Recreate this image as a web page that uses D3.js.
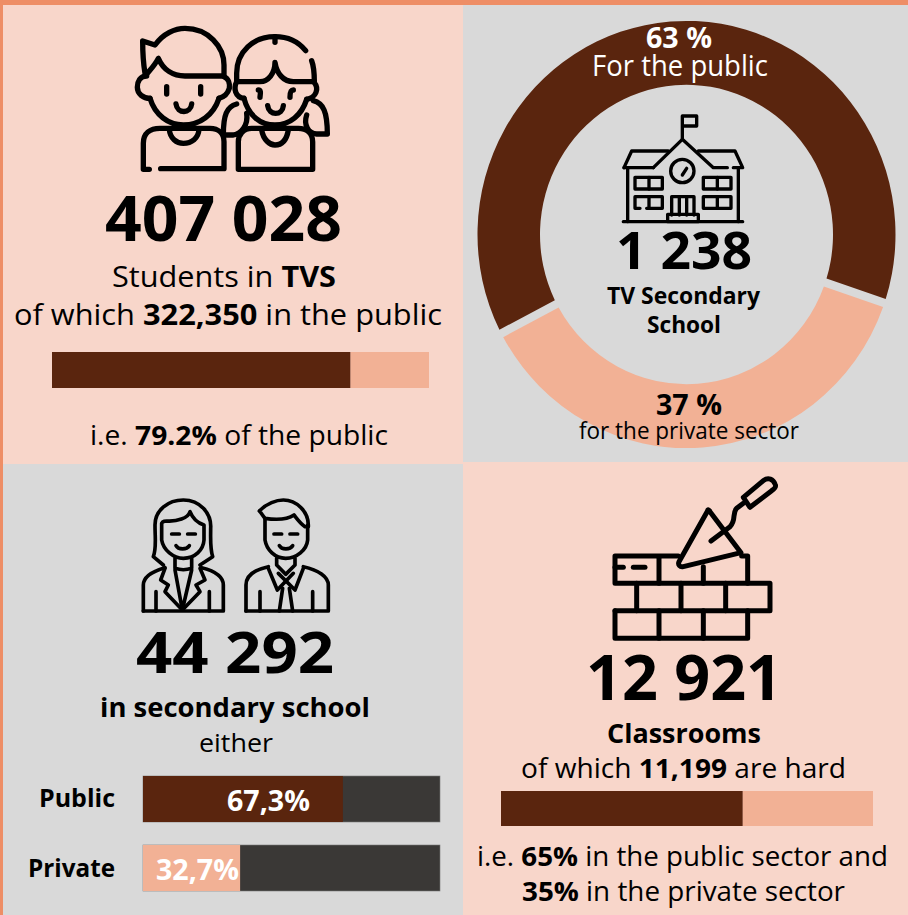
<!DOCTYPE html>
<html>
<head>
<meta charset="utf-8">
<title>TVS infographic</title>
<script src="https://d3js.org/d3.v7.min.js"></script>
<style>
  html, body { margin: 0; padding: 0; background: #fff; }
  svg { display: block; }
  text { font-family: "Open Sans", sans-serif; fill: #000; }
  .icon path, .icon circle { fill: none; stroke: #000; stroke-linecap: round; stroke-linejoin: round; }
</style>
</head>
<body>
<svg id="chart" width="908" height="915"></svg>
<script>
// values
var schoolLabels = ["For the public", "for the private sector"];
var schoolShares = [63, 37];
var studentShares = [79.2, 20.8];
var classroomShares = [65, 35];
var teacherLabels = ["Public", "Private"];
var teacherShares = [67.3, 32.7];
var teacherTexts = ["67,3%", "32,7%"];

var brown = "#5a250e", peach = "#f2b195", pink = "#f8d6ca", grey = "#d9d9d9", track = "#3a3836", orange = "#ee8e66";

var svg = d3.select("#chart");

// panels
svg.append("rect").attr("width", 908).attr("height", 915).attr("fill", orange);
function panel(x, y, w, h, c) {
  svg.append("rect").attr("x", x).attr("y", y).attr("width", w).attr("height", h).attr("fill", c);
}
panel(3, 5, 460, 459, pink);
panel(463, 5, 445, 457, grey);
panel(3, 464, 460, 451, grey);
panel(463, 462, 445, 453, pink);

// text helper: runs are [string, bold], width is the measured width of the line in the picture
function line(x0, x1, y, size, runs, color) {
  var t = svg.append("text")
    .attr("x", (x0 + x1) / 2).attr("y", y)
    .attr("text-anchor", "middle")
    .attr("font-size", size)
    .attr("textLength", x1 - x0)
    .attr("lengthAdjust", "spacingAndGlyphs")
    .style("fill", color || "#000");
  runs.forEach(function(r) {
    t.append("tspan").attr("font-weight", r[1] ? 700 : 400).text(r[0]);
  });
}

// stacked bar helper
function stacked(x0, x1, y0, y1, shares) {
  var x = d3.scaleLinear().domain([0, d3.sum(shares)]).range([x0, x1]);
  var colors = [brown, peach], sum = 0;
  shares.forEach(function(v, i) {
    svg.append("rect")
      .attr("x", x(sum)).attr("y", y0)
      .attr("width", x(sum + v) - x(sum)).attr("height", y1 - y0)
      .attr("fill", colors[i]);
    sum += v;
  });
}

// donut
var pie = d3.pie().sort(null).padAngle(0.032)
  .startAngle(242.4 * Math.PI / 180)
  .endAngle((242.4 + 360) * Math.PI / 180);
var arc = d3.arc().innerRadius(146.5).outerRadius(209);
svg.append("g")
  .attr("transform", "translate(686.5,234.5) scale(1,1.022)")
  .selectAll("path")
  .data(pie(schoolShares))
  .join("path")
  .attr("d", arc)
  .attr("fill", function(d, i) { return i == 0 ? brown : peach; });

// bars
stacked(52, 429, 352, 388, studentShares);
stacked(501, 873, 791, 826, classroomShares);

// teacher bars, 0-100 on a dark track
var tx = d3.scaleLinear().domain([0, 100]).range([143, 440]);
var ty = d3.scaleBand().domain(teacherLabels).range([776, 891]).paddingInner(1 / 3);
var teacherColors = [brown, peach];
teacherLabels.forEach(function(d, i) {
  svg.append("rect").attr("x", tx(0)).attr("y", ty(d)).attr("width", tx(100) - tx(0)).attr("height", ty.bandwidth())
    .attr("fill", track).attr("stroke", "#7a7a7a").attr("stroke-width", 0.6);
  svg.append("rect").attr("x", tx(0)).attr("y", ty(d)).attr("width", tx(teacherShares[i]) - tx(0)).attr("height", ty.bandwidth())
    .attr("fill", teacherColors[i]);
});

// top left
line(105, 342, 241, 62, [["407 028", 1]]);
line(112, 336, 287, 29, [["Students in ", 0], ["TVS", 1]]);
line(14, 442, 325, 29, [["of which ", 0], ["322,350", 1], [" in the public", 0]]);
line(90, 388, 445, 27, [["i.e. ", 0], ["79.2%", 1], [" of the public", 0]]);

// top right
line(646, 712, 48, 28, [["63 %", 1]], "#fff");
line(592, 768, 76, 29, [[schoolLabels[0], 0]], "#fff");
line(616, 752, 269, 52, [["1 238", 1]]);
line(607, 760, 304, 24, [["TV Secondary", 1]]);
line(647, 721, 333, 24, [["School", 1]]);
line(656, 722, 415, 28, [["37 %", 1]]);
line(579, 799, 439, 23, [[schoolLabels[1], 0]]);

// bottom left
line(136, 334, 673, 58, [["44 292", 1]]);
line(100, 370, 717, 27, [["in secondary school", 1]]);
line(199, 273, 752, 26, [["either", 0]]);
line(39, 115, 807, 25, [[teacherLabels[0], 1]]);
line(28, 115, 877, 25, [[teacherLabels[1], 1]]);
line(227, 310, 811, 28, [[teacherTexts[0], 1]], "#fff");
line(156, 239, 880, 28, [[teacherTexts[1], 1]], "#fff");

// bottom right
line(586, 782, 700, 62, [["12 921", 1]]);
line(607, 761, 743, 27, [["Classrooms", 1]]);
line(521, 846, 778, 27, [["of which ", 0], ["11,199", 1], [" are hard", 0]]);
line(477, 888, 866, 27, [["i.e. ", 0], ["65%", 1], [" in the public sector and", 0]]);
line(522, 845, 901, 27, [["35%", 1], [" in the private sector", 0]]);

// icons, traced at 3x
function icon(x, y, sw, paths, circles) {
  var g = svg.append("g").attr("class", "icon")
    .attr("transform", "translate(" + x + "," + y + ") scale(0.33333)")
    .style("stroke-width", sw);
  g.selectAll("path").data(paths).join("path").attr("d", function(d) { return d; }).style("stroke-width", sw);
  (circles || []).forEach(function(c) {
    g.append("circle").attr("cx", c[0]).attr("cy", c[1]).attr("r", c[2]).style("stroke-width", sw);
  });
}

var kids = [
  "M75,190 C70,160 68,125 68,93 L105,105 C130,70 165,55 195,55 C265,55 312,110 312,165 L312,198 L195,198 C160,198 130,180 115,145 C105,165 90,180 78,195",
  "M80,198 C60,198 52,215 52,232 C52,252 70,265 90,265",
  "M312,200 C325,205 330,220 328,235 C322,255 310,262 297,265",
  "M90,265 C105,315 145,345 190,345 C240,345 280,315 297,265",
  "M140,230 L140,252", "M242,230 L242,252",
  "M168,282 C172,312 212,312 215,282",
  "M88,478 L70,478 L70,400 C70,370 90,355 120,355 L270,355 C295,355 312,370 312,395 L312,476 L122,476",
  "M148,358 C150,385 170,400 190,400 C215,400 235,385 237,358",
  "M350,215 L350,190 C350,125 400,80 465,80 C505,80 535,95 557,122",
  "M575,152 C582,170 583,195 583,215", "M465,80 L465,97",
  "M350,215 L420,215 C445,215 465,190 465,157 C470,190 490,215 520,215 L583,215",
  "M350,215 C340,235 345,262 372,265", "M583,218 C597,235 590,262 560,268",
  "M372,265 C385,315 420,345 465,345 C510,345 545,315 560,268",
  "M415,240 C425,240 420,255 420,262", "M520,240 C510,240 510,255 510,262",
  "M443,287 C447,318 487,318 490,287",
  "M350,282 C320,290 310,315 310,375 L340,375 C365,370 385,345 380,310",
  "M580,272 C610,280 622,305 622,372 L590,372 C565,370 550,345 560,315",
  "M355,478 L578,478 L578,395 C578,370 560,355 535,355 L395,355 C370,355 355,375 355,395 Z",
  "M425,360 C430,390 450,405 465,405 C485,405 500,390 505,360"
];
icon(120, 10, 16, kids);

var school = [
  "M247,118 L247,48 L290,48 L290,78 L247,78",
  "M160,203 L247,118 L340,203 L382,203",
  "M72,203 L160,203", "M72,203 L95,153 L205,153", "M295,153 L405,153 L428,203 L400,203",
  "M83,203 L83,365", "M415,203 L415,365", "M70,365 L428,365",
  "M247,225 L260,205",
  "M105,232 L187,232 L187,267 L105,267 Z", "M147,232 L147,267",
  "M310,232 L393,232 L393,267 L310,267 Z", "M352,232 L352,267",
  "M310,290 L393,290 L393,325 L310,325 Z", "M352,290 L352,325",
  "M120,325 L105,325 L105,290 L187,290 L187,325 L140,325", "M147,290 L147,325",
  "M215,345 L215,290 L282,290 L282,345", "M238,290 L238,345", "M260,290 L260,345",
  "M203,343 L295,343 L295,365 L203,365 Z"
];
icon(600, 100, 10, school, [[247, 213, 35]]);

var staff = [
  "M130,240 L100,215 C110,190 105,160 105,120 C105,75 145,45 190,45 C240,45 275,85 272,130 C272,165 270,190 278,215 L240,240",
  "M125,115 L125,165 C130,195 160,220 190,220 C225,220 250,195 252,165 L252,120 C235,115 220,105 210,80 C205,100 170,110 140,108 C130,108 125,112 125,118",
  "M155,147 L178,147", "M203,147 L226,147", "M168,182 C175,195 200,195 208,182",
  "M165,220 L165,250 C180,255 200,255 215,250 L215,220",
  "M70,378 L310,378 L310,300 C310,275 285,258 245,248", "M135,248 C100,258 70,275 70,300 L70,378",
  "M165,255 L187,375 L215,255",
  "M135,250 L122,285 L145,300 L135,320 L187,375 L240,320 L228,300 L255,285 L240,250",
  "M108,320 L108,378", "M268,320 L268,378",
  "M418,78 C440,55 470,45 490,45 C530,45 565,80 565,120 L565,125 L555,125 C540,115 530,100 522,90 C500,105 470,105 435,100 C430,95 425,85 418,78 Z",
  "M435,100 L435,165 C440,195 465,220 497,220 C530,220 560,195 563,165 L563,120",
  "M462,147 L485,147", "M510,147 L533,147", "M478,182 C485,195 510,195 518,182",
  "M470,220 L470,240 L497,268 L525,240 L525,220",
  "M445,250 L472,315 L520,265", "M550,250 L525,315 L475,265",
  "M488,310 L478,378", "M508,310 L518,378",
  "M378,378 L625,378 L625,300 C625,275 595,255 550,245", "M445,245 C400,255 378,275 378,300 L378,378",
  "M420,320 L420,378", "M578,320 L578,378"
];
icon(120, 485, 11, staff);

var bricks = [
  "M250,258 L60,258 L60,340 L458,340 L458,258 L440,258",
  "M192,265 L192,340", "M325,290 L325,340",
  "M60,292 L85,292", "M115,292 L150,292",
  "M458,340 L525,340 L525,422 L60,422", "M125,340 L125,422", "M258,340 L258,422", "M392,340 L392,422",
  "M60,422 L60,505 L458,505 L458,422", "M192,422 L192,505", "M325,422 L325,505",
  "M338,122 L252,275 C248,285 255,292 265,290 L438,248 L345,125 C342,118 338,118 338,122 Z",
  "M348,213 L405,170 C425,150 410,130 425,115 L445,100",
  "M445,82 L505,32 C520,20 535,28 540,42 C545,50 540,55 530,62 L465,112 Z"
];
icon(595, 470, 15, bricks);
</script>
</body>
</html>
